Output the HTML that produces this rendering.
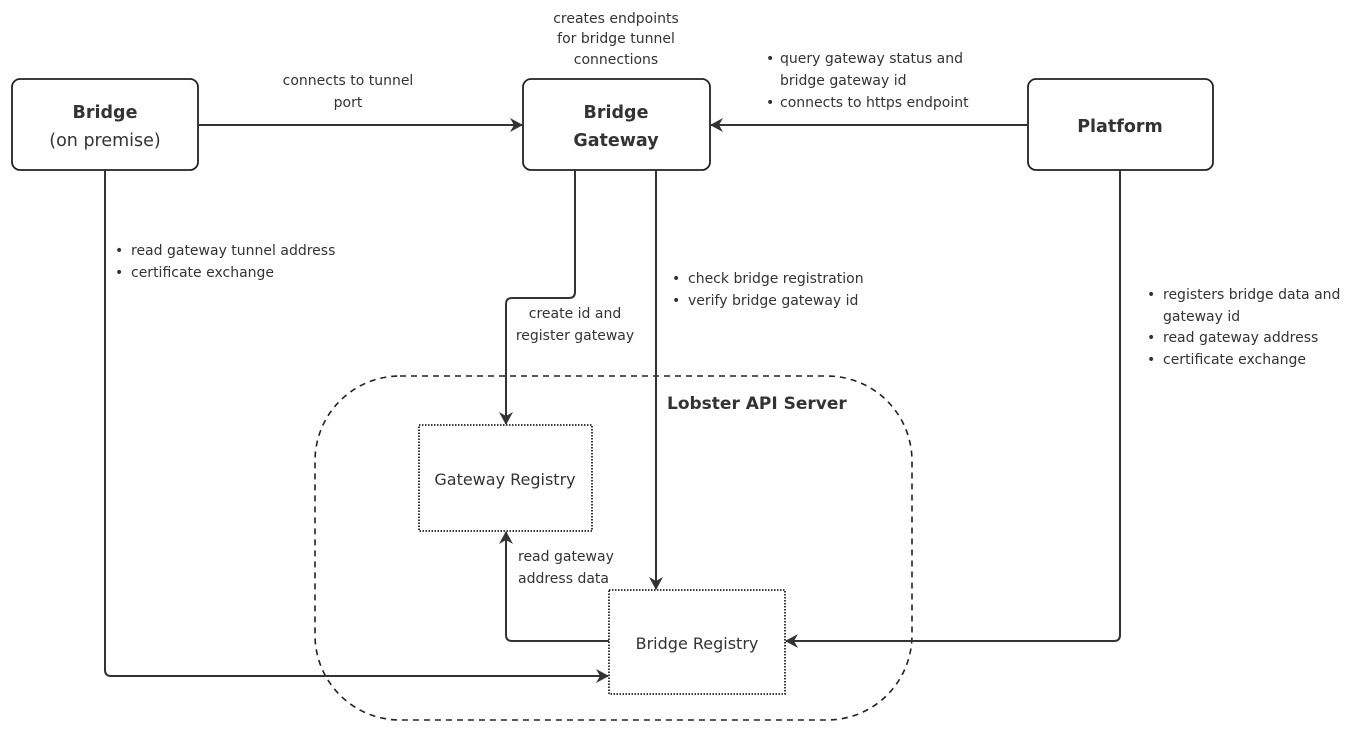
<!DOCTYPE html>
<html><head><meta charset="utf-8"><style>
html,body{margin:0;padding:0;background:#fff;}
svg{display:block;}
text{font-family:"DejaVu Sans","Liberation Sans",sans-serif;fill:#333;}
.s{font-size:14px;}
.b{font-size:17.5px;font-weight:bold;}
</style></head><body>
<svg width="1354" height="738" viewBox="0 0 1354 738" xmlns="http://www.w3.org/2000/svg">
<defs>
<marker id="a" markerWidth="14" markerHeight="14" refX="12" refY="7" orient="auto" markerUnits="userSpaceOnUse">
<path d="M0,0 L13,7 L0,14 L4,7 Z" fill="#333"/>
</marker>
</defs>
<rect x="315" y="376" width="597" height="344" rx="85" ry="85" fill="none" stroke="#222" stroke-width="1.6" stroke-dasharray="6,5"/>
<text x="667" y="409" class="b" style="font-size:17px">Lobster API Server</text>

<rect x="12" y="79" width="186" height="91" rx="8" fill="#fff" stroke="#222" stroke-width="1.8"/>
<text x="105" y="118" class="b" text-anchor="middle">Bridge</text>
<text x="105" y="146" text-anchor="middle" style="font-size:17.5px">(on premise)</text>

<rect x="523" y="79" width="187" height="91" rx="8" fill="#fff" stroke="#222" stroke-width="1.8"/>
<text x="616" y="118" class="b" text-anchor="middle">Bridge</text>
<text x="616" y="146" class="b" text-anchor="middle">Gateway</text>

<rect x="1028" y="79" width="185" height="91" rx="8" fill="#fff" stroke="#222" stroke-width="1.8"/>
<text x="1120" y="132" class="b" text-anchor="middle">Platform</text>

<rect x="419" y="425" width="173" height="106" fill="#fff" stroke="#222" stroke-width="1.8" stroke-dasharray="1.5,1.5"/>
<text x="505" y="485" text-anchor="middle" style="font-size:16px">Gateway Registry</text>
<rect x="609" y="590" width="176" height="104" fill="#fff" stroke="#222" stroke-width="1.8" stroke-dasharray="1.5,1.5"/>
<text x="697" y="649" text-anchor="middle" style="font-size:16px">Bridge Registry</text>

<g fill="none" stroke="#333" stroke-width="2">
<path d="M198,125 H522" marker-end="url(#a)"/>
<path d="M1028,125 H711" marker-end="url(#a)"/>
<path d="M105,170 V670 Q105,676 111,676 H608" marker-end="url(#a)"/>
<path d="M575,170 V292 Q575,298 569,298 H512 Q506,298 506,304 V424" marker-end="url(#a)"/>
<path d="M656,170 V589" marker-end="url(#a)"/>
<path d="M1120,170 V635 Q1120,641 1114,641 H786" marker-end="url(#a)"/>
<path d="M609,641 H512 Q506,641 506,635 V532" marker-end="url(#a)"/>
</g>

<g class="s">
<text x="348" y="85" text-anchor="middle" class="s">connects to tunnel</text>
<text x="348" y="107" text-anchor="middle" class="s">port</text>
<text x="616" y="23" text-anchor="middle" class="s">creates endpoints</text>
<text x="616" y="43" text-anchor="middle" class="s">for bridge tunnel</text>
<text x="616" y="64" text-anchor="middle" class="s">connections</text>

<text x="766" y="63" class="s">•</text><text x="780" y="63" class="s">query  gateway status and</text>
<text x="780" y="85" class="s">bridge gateway id</text>
<text x="766" y="107" class="s">•</text><text x="780" y="107" class="s">connects to https endpoint</text>

<text x="115" y="255" class="s">•</text><text x="131" y="255" class="s">read gateway tunnel address</text>
<text x="115" y="277" class="s">•</text><text x="131" y="277" class="s">certificate exchange</text>

<text x="575" y="318" text-anchor="middle" class="s">create id and</text>
<text x="575" y="340" text-anchor="middle" class="s">register gateway</text>

<text x="672" y="283" class="s">•</text><text x="688" y="283" class="s">check bridge registration</text>
<text x="672" y="305" class="s">•</text><text x="688" y="305" class="s">verify bridge gateway id</text>

<text x="1147" y="299" class="s">•</text><text x="1163" y="299" class="s">registers bridge data and</text>
<text x="1163" y="321" class="s">gateway id</text>
<text x="1147" y="342" class="s">•</text><text x="1163" y="342" class="s">read gateway address</text>
<text x="1147" y="364" class="s">•</text><text x="1163" y="364" class="s">certificate exchange</text>

<text x="518" y="561" class="s">read gateway</text>
<text x="518" y="583" class="s">address data</text>
</g>
</svg>
</body></html>
